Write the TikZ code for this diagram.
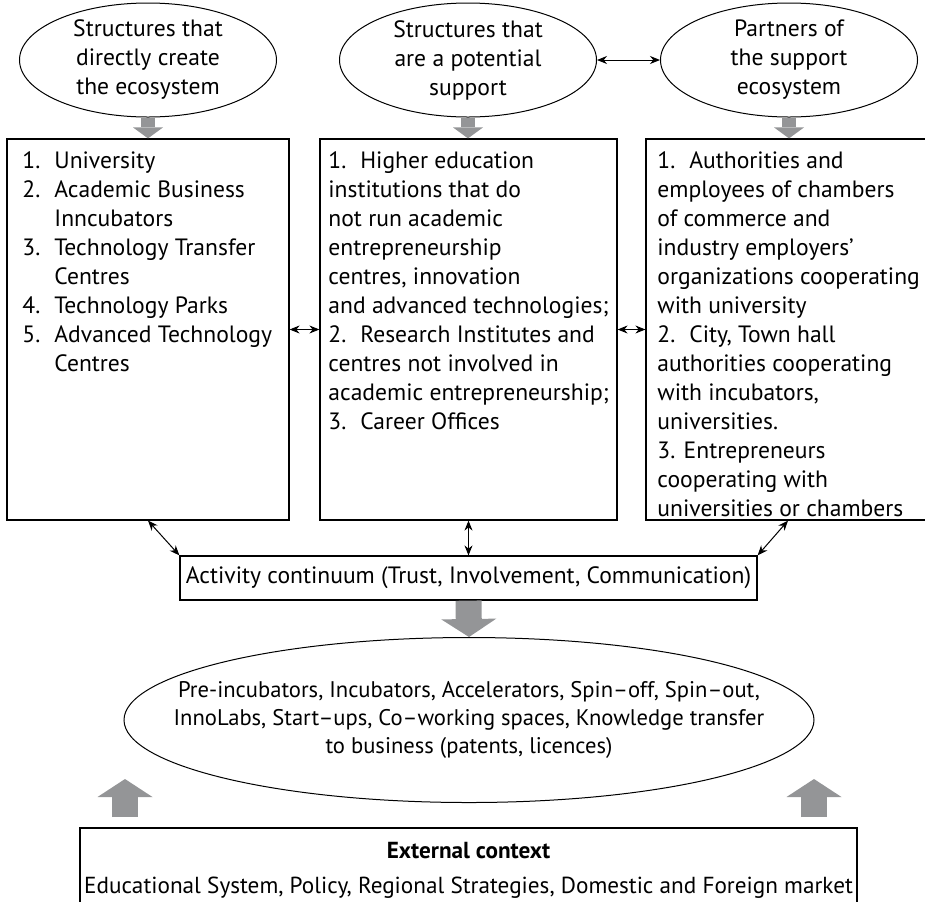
\documentclass[tikz,border=0pt]{standalone}
\usepackage{fontspec}
\setmainfont{PT Sans}
\usetikzlibrary{arrows.meta,shapes.geometric}
\definecolor{arrowgray}{RGB}{148,149,151}
\newcommand{\numitem}[2]{\makebox[16pt][l]{#1}#2}
\newcommand{\hangline}[1]{\hspace*{16pt}#1}

\begin{document}
\begin{tikzpicture}[x=0.5pt,y=-0.5pt,
    font=\fontsize{11.8}{14.5}\selectfont,
    oval/.style={draw,ellipse,line width=0.5pt,inner sep=0pt,align=center},
    frame/.style={draw,rectangle,line width=0.6pt,inner sep=0pt},
    listtext/.style={anchor=north west,inner sep=0pt,align=left},
    link/.style={line width=0.5pt,{Stealth[length=5pt,width=4pt]}-{Stealth[length=5pt,width=4pt]}},
    fat/.style={draw=arrowgray,line width=7pt,-{Triangle[length=5.5pt,width=15pt,line width=0pt]}},
    bigfat/.style={draw=arrowgray,line width=13pt,-{Triangle[length=9pt,width=27.5pt,line width=0pt]}}]
  \useasboundingbox (0,0) rectangle (925,901);

  \node[oval,minimum width=128.5pt,minimum height=57pt] (e1) at (148,60) {Structures that\\directly create\\the ecosystem};
  \node[oval,minimum width=128.5pt,minimum height=57pt] (e2) at (468,60) {Structures that\\are a potential\\support};
  \node[oval,minimum width=128.5pt,minimum height=57pt] (e3) at (789,60) {Partners of\\the support\\ecosystem};

  \node[frame,minimum width=141pt,minimum height=190.5pt] (b1) at (148,329.5) {};
  \node[frame,minimum width=148.5pt,minimum height=190.5pt] (b2) at (468.5,329.5) {};
  \node[frame,minimum width=147pt,minimum height=190.5pt] (b3) at (793,329.5) {};

  \node[listtext] (t1) at (22,151) {\numitem{1.}{University}\\
    \numitem{2.}{Academic Business}\\
    \hangline{Inncubators}\\
    \numitem{3.}{Technology Transfer}\\
    \hangline{Centres}\\
    \numitem{4.}{Technology Parks}\\
    \numitem{5.}{Advanced Technology}\\
    \hangline{Centres}};
  \node[listtext] (t2) at (328,151) {\numitem{1.}{Higher education}\\
    institutions that do\\
    not run academic\\
    entrepreneurship\\
    centres, innovation\\
    and advanced technologies;\\
    \numitem{2.}{Research Institutes and}\\
    centres not involved in\\
    academic entrepreneurship;\\
    \numitem{3.}{Career Offices}};
  \node[listtext] (t3) at (657,151) {\numitem{1.}{Authorities and}\\
    employees of chambers\\
    of commerce and\\
    industry employers’\\
    organizations cooperating\\
    with university\\
    \numitem{2.}{City, Town hall}\\
    authorities cooperating\\
    with incubators,\\
    universities.\\
    3. Entrepreneurs\\
    cooperating with\\
    universities or chambers};

  \node[frame,minimum width=288.5pt,minimum height=22pt] (act) at (468.5,578) {Activity continuum (Trust, Involvement, Communication)};
  \node[oval,minimum width=345pt,minimum height=82.5pt] (eco) at (469,720) {};
  \node[align=center,inner sep=0pt,font=\fontsize{11.3}{14}\selectfont] (ecotext) at (eco.center) {Pre-incubators, Incubators, Accelerators, Spin–off, Spin–out,\\InnoLabs, Start–ups, Co–working spaces, Knowledge transfer\\to business (patents, licences)};
  \node[frame,minimum width=388.5pt,minimum height=42pt,align=center,font=\fontsize{11.6}{17.5}\selectfont] (ext) at (468.5,870) {\textbf{External context}\\Educational System, Policy, Regional Strategies, Domestic and Foreign market};

  \coordinate (upL) at (125,817);
  \coordinate (upLtip) at (125,779);
  \coordinate (upR) at (814,817);
  \coordinate (upRtip) at (814,779);

  \draw[fat] (e1.south) -- (b1.north -| e1.south);
  \draw[fat] (e2.south) -- (b2.north -| e2.south);
  \draw[fat] (e3.south) -- (b3.north -| e3.south);
  \draw[link] (e2.east) -- (e3.west);
  \draw[link] (b1.east) -- (b2.west);
  \draw[link] (b2.east) -- (b3.west);
  \draw[link] (b1.south) -- (act.north west);
  \draw[link] (b2.south) -- (act.north);
  \draw[link] (b3.south -| 788,0) -- (act.north east);
  \draw[bigfat] (act.south) -- (eco.north);
  \draw[bigfat] (upL) -- (upLtip);
  \draw[bigfat] (upR) -- (upRtip);
\end{tikzpicture}
\end{document}
